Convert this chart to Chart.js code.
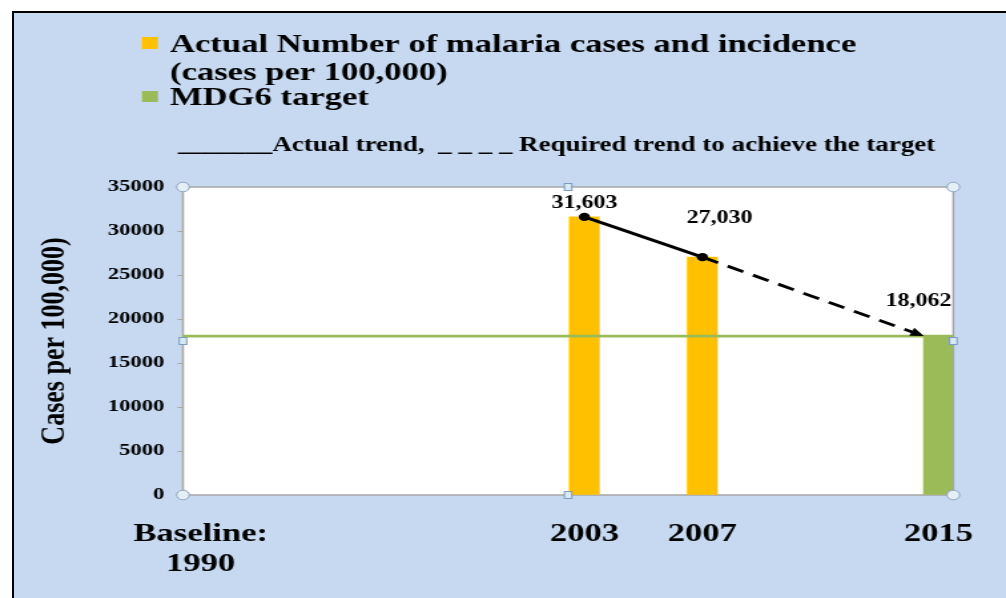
<!DOCTYPE html>
<html>
<head>
<meta charset="utf-8">
<script src="https://cdn.jsdelivr.net/npm/chart.js@4.4.1/dist/chart.umd.min.js"></script>
<style>
  html, body { margin: 0; padding: 0; background: #fff; overflow: hidden; }
  .slide {
    position: absolute; left: 12px; top: 11px; width: 994px; height: 587px;
    background: #C6D9F1; border-top: 2px solid #000; border-left: 2px solid #000;
    box-sizing: border-box;
  }
  /* the original picture is stretched sideways, so draw narrow and stretch */
  .stretch {
    position: absolute; left: 0; top: 0; width: 756px; height: 598px;
    transform: scaleX(1.3307); transform-origin: 0 0;
  }
</style>
</head>
<body>
<div class="slide"></div>
<div class="stretch"><canvas id="chart"></canvas></div>
<script>
const seriesNames = [
  ['Actual Number of malaria cases and incidence', '(cases per 100,000)'],
  ['MDG6 target']
]
const actualYears = [2003, 2007]
const actualCases = [31603, 27030]
const targetYears = [2015]
const targetCases = [18062]
// dashed part ends at the left edge of the 2015 bar
const requiredYears = [2007, 2014.5]
const requiredCases = [27030, 18062]
const xTickYears = [1990, 2003, 2007, 2015]
const xTickLabels = [['Baseline:', '1990'], '2003', '2007', '2015']
const trendNote = '_______Actual trend,  _ _ _ _ Required trend to achieve the target'
const yTitle = 'Cases per 100,000)'

const SERIF = "'Liberation Serif', 'Times New Roman', serif"
const ORANGE = '#FFC000'
const GREEN = '#9BBB59'
const FRAME = '#A6A6A6'

const toPoints = (xs, ys) => xs.map((x, i) => ({ x: x, y: ys[i] }))

const slidePlugin = {
  id: 'slide',
  beforeDraw(chart) {
    const { ctx, chartArea: a } = chart
    ctx.save()
    ctx.fillStyle = '#fff'
    ctx.fillRect(a.left, a.top, a.right - a.left, a.bottom - a.top)
    ctx.strokeStyle = FRAME
    ctx.lineWidth = 1.5
    ctx.strokeRect(a.left, a.top, a.right - a.left, a.bottom - a.top)
    ctx.restore()

    // legend
    ctx.save()
    ctx.textBaseline = 'alphabetic'
    ctx.font = 'bold 26px ' + SERIF
    ctx.fillStyle = ORANGE
    ctx.fillRect(106.7, 37, 12, 12)
    ctx.fillStyle = GREEN
    ctx.fillRect(106.7, 91, 12, 11)
    ctx.fillStyle = '#000'
    ctx.fillText(seriesNames[0][0], 127.8, 52)
    ctx.fillText(seriesNames[0][1], 127.8, 80)
    ctx.fillText(seriesNames[1][0], 127.8, 105)
    ctx.font = 'bold 20.4px ' + SERIF
    ctx.fillText(trendNote, 133.8, 151, 569)
    ctx.restore()
  },
  afterDatasetsDraw(chart) {
    const { ctx, chartArea: a, scales } = chart
    const yT = scales.y.getPixelForValue(targetCases[0])
    ctx.save()
    // MDG6 target level across the plot
    ctx.strokeStyle = GREEN
    ctx.lineWidth = 2.8
    ctx.beginPath()
    ctx.moveTo(a.left, yT)
    ctx.lineTo(a.right, yT)
    ctx.stroke()

    // arrow head on the required trend
    const pts = chart.getDatasetMeta(1).data
    const p1 = pts[pts.length - 2], p2 = pts[pts.length - 1]
    const ang = Math.atan2(p2.y - p1.y, p2.x - p1.x)
    ctx.fillStyle = '#000'
    ctx.translate(p2.x, p2.y)
    ctx.rotate(ang)
    ctx.beginPath()
    ctx.moveTo(0, 0)
    ctx.lineTo(-10, -4.5)
    ctx.lineTo(-10, 4.5)
    ctx.closePath()
    ctx.fill()
    ctx.restore()

    // value labels
    const offsets = [[0, -9], [12.8, -34], [-15, -30]]
    ctx.save()
    ctx.font = 'bold 18px ' + SERIF
    ctx.fillStyle = '#000'
    ctx.textAlign = 'center'
    let k = 0
    ;[2, 3].forEach(di => {
      const ds = chart.data.datasets[di]
      chart.getDatasetMeta(di).data.forEach((bar, i) => {
        const o = offsets[k++]
        ctx.fillText(ds.data[i].y.toLocaleString('en-US'), bar.x + o[0], bar.y + o[1])
      })
    })
    ctx.restore()
  },
  afterDraw(chart) {
    // selection handles round the plot area
    const { ctx, chartArea: a } = chart
    const mx = (a.left + a.right) / 2, my = (a.top + a.bottom) / 2
    ctx.save()
    ctx.lineWidth = 1
    ctx.strokeStyle = '#8EA4BC'
    ctx.fillStyle = '#E4EFF8'
    ;[[a.left, a.top], [a.right, a.top], [a.left, a.bottom], [a.right, a.bottom]].forEach(p => {
      ctx.beginPath()
      ctx.arc(p[0], p[1], 4.8, 0, Math.PI * 2)
      ctx.fill()
      ctx.stroke()
    })
    ctx.strokeStyle = '#7A9CC0'
    ctx.fillStyle = '#D8E9F7'
    ;[[mx, a.top], [mx, a.bottom], [a.left, my], [a.right, my]].forEach(p => {
      ctx.fillRect(p[0] - 2.8, p[1] - 3.5, 5.6, 7)
      ctx.strokeRect(p[0] - 2.8, p[1] - 3.5, 5.6, 7)
    })
    ctx.restore()
  }
}

const chart = new Chart(document.getElementById('chart'), {
  type: 'bar',
  data: {
    datasets: [
      {
        type: 'line',
        label: 'Actual trend',
        data: toPoints(actualYears, actualCases),
        borderColor: '#000',
        borderWidth: 2.8,
        pointRadius: 4.2,
        pointBackgroundColor: '#000',
        pointBorderWidth: 0,
        order: 0
      },
      {
        type: 'line',
        label: 'Required trend to achieve the target',
        data: toPoints(requiredYears, requiredCases),
        borderColor: '#000',
        borderWidth: 2.8,
        borderDash: [13, 8],
        pointRadius: 0,
        order: 0
      },
      {
        label: seriesNames[0].join(' '),
        data: toPoints(actualYears, actualCases),
        backgroundColor: ORANGE,
        barThickness: 22.5,
        grouped: false,
        order: 1
      },
      {
        label: seriesNames[1].join(' '),
        data: toPoints(targetYears, targetCases),
        backgroundColor: GREEN,
        barThickness: 22.5,
        grouped: false,
        order: 1
      }
    ]
  },
  options: {
    responsive: true,
    maintainAspectRatio: false,
    animation: false,
    layout: { padding: { left: 26, right: 36.8, top: 187, bottom: 0 } },
    plugins: {
      legend: { display: false },
      tooltip: { enabled: false }
    },
    scales: {
      x: {
        type: 'linear',
        min: 1989.4,
        max: 2015.5,
        offset: false,
        afterBuildTicks(scale) {
          scale.ticks = xTickYears.map(v => ({ value: v }))
        },
        ticks: {
          autoSkip: false,
          maxRotation: 0,
          padding: 24,
          color: '#000',
          font: { family: SERIF, size: 26, weight: 'bold', lineHeight: 1.15 },
          callback: v => xTickLabels[xTickYears.indexOf(v)]
        },
        grid: { display: false, drawTicks: false },
        border: { display: false },
        afterFit(scale) { scale.height = 103 }
      },
      y: {
        min: 0,
        max: 35000,
        ticks: {
          stepSize: 5000,
          padding: 10,
          color: '#000',
          font: { family: SERIF, size: 17, weight: 'bold' },
          callback: v => String(v)
        },
        grid: { drawOnChartArea: false, drawTicks: true, tickLength: 4, color: FRAME },
        border: { display: false },
        title: {
          display: true,
          text: yTitle,
          color: '#000',
          padding: 0,
          font: { family: SERIF, size: 26, weight: 'bold' }
        },
        afterFit(scale) { scale.width = 111.5 }
      }
    }
  },
  plugins: [slidePlugin]
})
</script>
</body>
</html>
